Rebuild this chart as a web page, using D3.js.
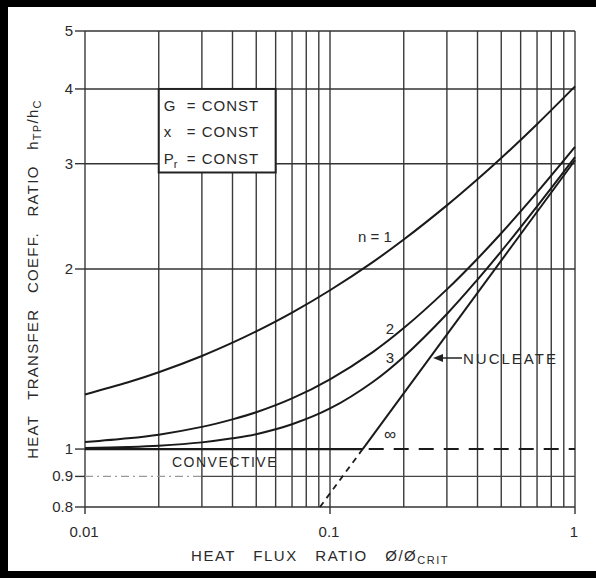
<!DOCTYPE html>
<html><head><meta charset="utf-8">
<script src="https://cdn.jsdelivr.net/npm/d3@7/dist/d3.min.js"></script>
<style>
html,body{margin:0;padding:0;background:#fff;}
svg{display:block;}
text{font-family:"Liberation Sans",Arial,sans-serif;fill:#2a2a2a;}
</style></head>
<body>
<svg id="chart" width="596" height="578"></svg>
<script>
// ---- data ----
const fluxRatio = [0.01, 0.015, 0.02, 0.03, 0.04, 0.05, 0.07, 0.1, 0.15, 0.2, 0.3, 0.4, 0.5, 0.7, 1.0];
const curveN1 = [1.234, 1.293, 1.344, 1.431, 1.506, 1.573, 1.691, 1.843, 2.056, 2.240, 2.555, 2.825, 3.066, 3.493, 4.04];
const curveN2 = [1.027, 1.042, 1.057, 1.089, 1.121, 1.152, 1.215, 1.308, 1.454, 1.593, 1.849, 2.081, 2.295, 2.686, 3.20];
const curveN3 = [1.004, 1.008, 1.013, 1.026, 1.042, 1.059, 1.100, 1.169, 1.296, 1.427, 1.682, 1.920, 2.141, 2.546, 3.076];
const nucleateX = [0.136, 1.0];
const nucleateY = [1.0, 3.04];
const nucleateDashX = [0.091, 0.136];
const nucleateDashY = [0.8, 1.0];
const convectiveSolidX = [0.01, 0.136];
const convectiveDashX = [0.136, 1.0];
const convectiveY = 1.0;

const xGrid = [0.01,0.02,0.03,0.04,0.05,0.06,0.07,0.08,0.09,0.1,0.2,0.3,0.4,0.5,0.6,0.7,0.8,0.9,1];
const yGrid = [0.8, 2, 3, 4, 5];
const xTickValues = [0.01, 0.1, 1];
const xTickLabels = ["0.01", "0.1", "1"];
const yTickValues = [0.8, 0.9, 1, 2, 3, 4, 5];
const yTickLabels = ["0.8", "0.9", "1", "2", "3", "4", "5"];
const boxLines = ["G", "x", "P"];
const boxSubs = ["", "", "r"];

const svg = d3.select("#chart");
const x = d3.scaleLog().domain([0.01, 1]).range([85, 575]);
const y = d3.scaleLog().domain([0.8, 5]).range([507, 31]);

// frame
svg.append("rect").attr("x",0).attr("y",0).attr("width",596).attr("height",7).attr("fill","#000");
svg.append("rect").attr("x",0).attr("y",0).attr("width",8).attr("height",578).attr("fill","#000");
svg.append("rect").attr("x",0).attr("y",571).attr("width",596).attr("height",7).attr("fill","#000");

const g = svg.append("g");
// vertical grid
g.selectAll("line.vg").data(xGrid).join("line")
  .attr("x1", d=>x(d)).attr("x2", d=>x(d)).attr("y1", y(5)).attr("y2", y(0.8))
  .attr("stroke", "#3a3a3a").attr("stroke-width", 1.4);
// horizontal grid
g.selectAll("line.hg").data(yGrid).join("line")
  .attr("x1", x(0.01)).attr("x2", x(1)).attr("y1", d=>y(d)).attr("y2", d=>y(d))
  .attr("stroke", "#333").attr("stroke-width", 1.5);
// 0.9 line
g.append("line").attr("x1", x(0.01)).attr("x2", x(0.03)).attr("y1", y(0.9)).attr("y2", y(0.9))
  .attr("stroke", "#999").attr("stroke-width", 1.2).attr("stroke-dasharray", "8,4,2,4");
g.append("line").attr("x1", x(0.03)).attr("x2", x(1)).attr("y1", y(0.9)).attr("y2", y(0.9))
  .attr("stroke", "#444").attr("stroke-width", 1.3);

// ticks
g.selectAll("line.yt").data(yTickValues).join("line")
  .attr("x1", 75).attr("x2", x(0.01)).attr("y1", d=>y(d)).attr("y2", d=>y(d))
  .attr("stroke", "#333").attr("stroke-width", 1.4);
g.selectAll("line.xt").data(xTickValues).join("line")
  .attr("x1", d=>x(d)).attr("x2", d=>x(d)).attr("y1", y(0.8)).attr("y2", y(0.8)+7)
  .attr("stroke", "#333").attr("stroke-width", 1.4);

// tick labels
g.selectAll("text.yl").data(yTickValues).join("text")
  .attr("x", 73).attr("y", d=>y(d)+5).attr("text-anchor","end")
  .attr("font-size", 15).text((d,i)=>yTickLabels[i]);
g.selectAll("text.xl").data(xTickValues).join("text")
  .attr("x", d=>x(d)-1).attr("y", 537).attr("text-anchor","middle")
  .attr("font-size", 15).text((d,i)=>xTickLabels[i]);

// convective line
g.append("line").attr("x1", x(convectiveSolidX[0])).attr("x2", x(convectiveSolidX[1]))
  .attr("y1", y(convectiveY)).attr("y2", y(convectiveY)).attr("stroke","#1a1a1a").attr("stroke-width",2.2);
g.append("line").attr("x1", x(convectiveDashX[0])).attr("x2", x(convectiveDashX[1]))
  .attr("y1", y(convectiveY)).attr("y2", y(convectiveY)).attr("stroke","#1a1a1a").attr("stroke-width",2)
  .attr("stroke-dasharray","15,10").attr("stroke-dashoffset",-6);

// curves
const line = d3.line().x(d=>x(d[0])).y(d=>y(d[1])).curve(d3.curveCatmullRom.alpha(0.5));
[curveN1, curveN2, curveN3].forEach(vals=>{
  g.append("path").datum(fluxRatio.map((f,i)=>[f, vals[i]]))
    .attr("d", line).attr("fill","none").attr("stroke","#1a1a1a").attr("stroke-width",2);
});
g.append("path").datum(nucleateX.map((f,i)=>[f, nucleateY[i]]))
  .attr("d", d3.line().x(d=>x(d[0])).y(d=>y(d[1]))).attr("fill","none").attr("stroke","#1a1a1a").attr("stroke-width",2);
g.append("path").datum(nucleateDashX.map((f,i)=>[f, nucleateDashY[i]]))
  .attr("d", d3.line().x(d=>x(d[0])).y(d=>y(d[1]))).attr("fill","none").attr("stroke","#1a1a1a").attr("stroke-width",1.8)
  .attr("stroke-dasharray","6,5");

// info box
const bx0 = x(0.02), bx1 = x(0.06), by0 = y(4), by1 = y(2.9);
g.append("rect").attr("x", bx0).attr("y", by0).attr("width", bx1-bx0).attr("height", by1-by0)
  .attr("fill","#fff").attr("stroke","#222").attr("stroke-width",2);
boxLines.forEach((s,i)=>{
  const yy = by0 + 22 + i*26.5;
  const t = g.append("text").attr("x", bx0+5).attr("y", yy).attr("font-size",15);
  t.append("tspan").text(s);
  if (boxSubs[i]) t.append("tspan").attr("font-size",11).attr("dy",4).text(boxSubs[i]);
  g.append("text").attr("x", bx0+28).attr("y", yy).attr("font-size",15).attr("letter-spacing",1).text("= CONST");
});

// curve labels
g.append("text").attr("x", 375).attr("y", 242).attr("text-anchor","middle").attr("font-size",15).text("n = 1");
g.append("text").attr("x", 390).attr("y", 334).attr("text-anchor","middle").attr("font-size",15).text("2");
g.append("text").attr("x", 390).attr("y", 363).attr("text-anchor","middle").attr("font-size",15).text("3");
g.append("text").attr("x", 390).attr("y", 440).attr("text-anchor","middle").attr("font-size",17).text("∞");
g.append("text").attr("x", 225).attr("y", 467).attr("text-anchor","middle").attr("font-size",14).attr("letter-spacing",1.5).text("CONVECTIVE");
// nucleate label with arrow
g.append("line").attr("x1", 438).attr("x2", 462).attr("y1", 358).attr("y2", 358).attr("stroke","#222").attr("stroke-width",1.5);
g.append("path").attr("d","M433,358 L443,354 L443,362 Z").attr("fill","#222");
g.append("text").attr("x", 463).attr("y", 364).attr("font-size",15).attr("letter-spacing",2).text("NUCLEATE");

// axis titles
const xt = g.append("text").attr("x", 320).attr("y", 561).attr("text-anchor","middle").attr("font-size",15)
  .attr("letter-spacing",1.5).attr("word-spacing",12);
xt.append("tspan").text("HEAT FLUX RATIO Ø/Ø");
xt.append("tspan").attr("font-size",11).attr("dy",3).text("CRIT");

const yt = g.append("text").attr("transform","translate(38,279) rotate(-90)").attr("text-anchor","middle").attr("font-size",15)
  .attr("letter-spacing",1.3).attr("word-spacing",10);
yt.append("tspan").text("HEAT TRANSFER COEFF. RATIO h");
yt.append("tspan").attr("font-size",11).attr("dy",3).text("TP");
yt.append("tspan").attr("dy",-3).text("/h");
yt.append("tspan").attr("font-size",11).attr("dy",3).text("C");
</script>
</body></html>
